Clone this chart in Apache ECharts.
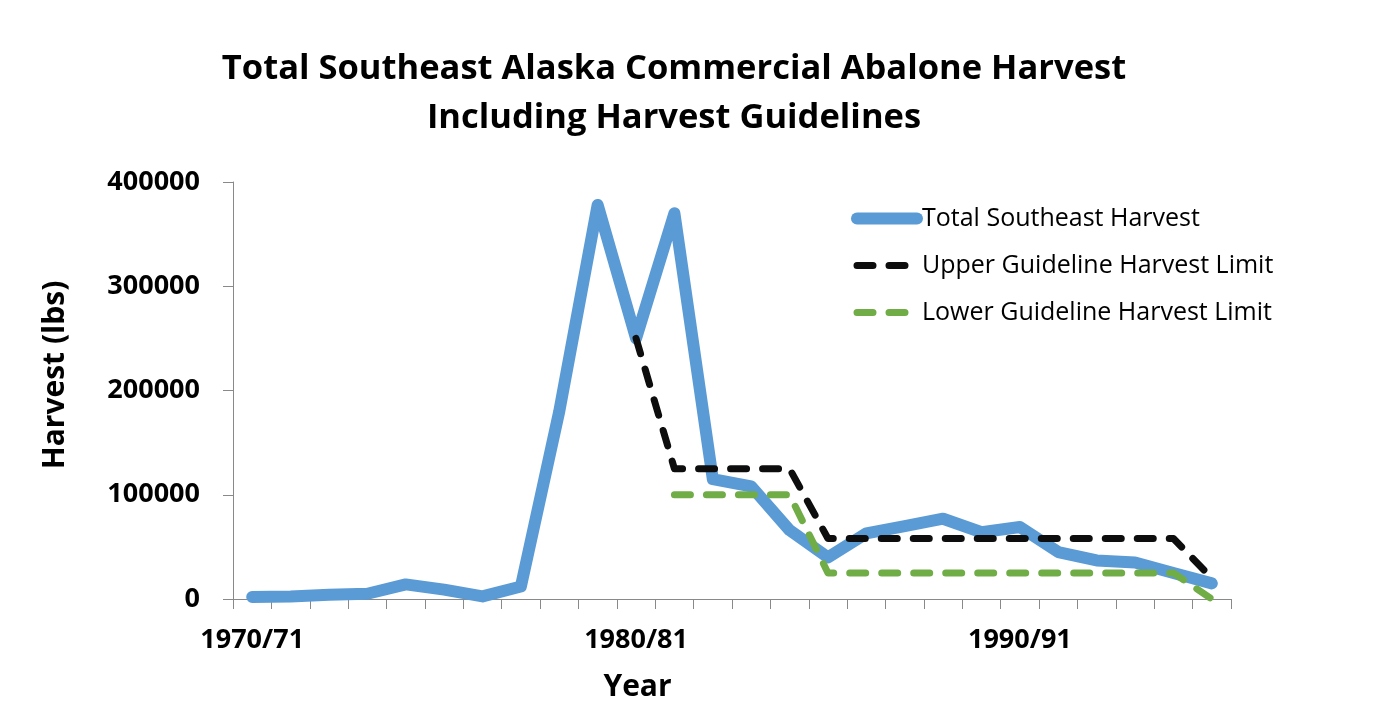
<!DOCTYPE html>
<html>
<head>
<meta charset="utf-8">
<script src="https://cdn.jsdelivr.net/npm/echarts@6/dist/echarts.min.js"></script>
<style>
  html, body { margin: 0; padding: 0; background: #ffffff; }
  #chart { width: 1376px; height: 722px; }
</style>
</head>
<body>
<div id="chart"></div>
<script>
// ---- data ----
const categories = ['1970/71','1971/72','1972/73','1973/74','1974/75','1975/76','1976/77','1977/78','1978/79','1979/80',
                    '1980/81','1981/82','1982/83','1983/84','1984/85','1985/86','1986/87','1987/88','1988/89','1989/90',
                    '1990/91','1991/92','1992/93','1993/94','1994/95','1995/96'];
const totalHarvest = [2000, 2500, 4000, 5000, 14000, 9000, 2500, 12000, 180000, 378000,
                      250000, 370000, 115000, 108000, 66000, 40000, 63000, 70000, 77000, 64000,
                      69000, 45000, 37000, 35000, 25000, 15000];
const upperGuideline = [null, null, null, null, null, null, null, null, null, null,
                        250000, 125000, 125000, 125000, 125000, 58000, 58000, 58000, 58000, 58000,
                        58000, 58000, 58000, 58000, 58000, 20000];
const lowerGuideline = [null, null, null, null, null, null, null, null, null, null,
                        null, 100000, 100000, 100000, 100000, 25000, 25000, 25000, 25000, 25000,
                        25000, 25000, 25000, 25000, 25000, 0];
const yTicks = [0, 100000, 200000, 300000, 400000];
const seriesNames = ['Total Southeast Harvest', 'Upper Guideline Harvest Limit', 'Lower Guideline Harvest Limit'];

const boldFont = '"Open Sans", "Noto Sans", sans-serif';
const axisGray = '#898989';

const chart = echarts.init(document.getElementById('chart'), null, { renderer: 'canvas' });
chart.setOption({
  animation: false,
  backgroundColor: '#ffffff',
  title: {
    text: 'Total Southeast Alaska Commercial Abalone Harvest\nIncluding Harvest Guidelines',
    left: 674,
    top: 45,
    padding: 0,
    textAlign: 'center',
    textVerticalAlign: 'top',
    textStyle: { fontFamily: boldFont, fontWeight: 'bold', fontSize: 34.5, lineHeight: 49, color: '#000000' }
  },
  legend: {
    orient: 'vertical',
    left: 851,
    top: 206,
    padding: 0,
    itemGap: 22,
    itemWidth: 60,
    itemHeight: 14,
    data: seriesNames,
    itemStyle: { opacity: 0 },
    lineStyle: { width: 'inherit' },
    textStyle: { fontFamily: '"Open Sans", sans-serif', fontSize: 25, color: '#000000' }
  },
  grid: { left: 233, right: 145, top: 182, bottom: 123, containLabel: false },
  xAxis: {
    type: 'category',
    data: categories,
    boundaryGap: true,
    name: 'Year',
    nameLocation: 'middle',
    nameGap: 73,
    nameTextStyle: { fontFamily: boldFont, fontWeight: 'bold', fontSize: 30, color: '#000000', padding: [0, 189, 0, 0] },
    axisLine: { lineStyle: { color: axisGray, width: 1 } },
    axisTick: { show: true, interval: 0, length: 10, lineStyle: { color: axisGray } },
    axisLabel: { interval: 9, margin: 28, fontFamily: boldFont, fontWeight: 'bold', fontSize: 27, color: '#000000' },
    splitLine: { show: false }
  },
  yAxis: {
    type: 'value',
    min: yTicks[0],
    max: yTicks[yTicks.length - 1],
    interval: yTicks[1] - yTicks[0],
    name: 'Harvest (lbs)',
    nameLocation: 'middle',
    nameGap: 163,
    nameTextStyle: { fontFamily: boldFont, fontWeight: 'bold', fontSize: 30, color: '#000000', padding: [0, 0, 0, 31] },
    axisLine: { show: true, lineStyle: { color: axisGray, width: 1 } },
    axisTick: { show: true, length: 10, lineStyle: { color: axisGray } },
    axisLabel: { margin: 33, fontFamily: boldFont, fontWeight: 'bold', fontSize: 27, color: '#000000',
                 formatter: function (v) { return String(v); } },
    splitLine: { show: false }
  },
  series: [
    {
      name: seriesNames[0], type: 'line', data: totalHarvest, symbol: 'none', z: 3,
      lineStyle: { color: '#5B9BD5', width: 12, cap: 'round', join: 'round' },
      itemStyle: { color: '#5B9BD5' }
    },
    {
      name: seriesNames[1], type: 'line', data: upperGuideline, symbol: 'none', z: 4,
      lineStyle: { color: '#0D0D0D', width: 7, type: [16, 16], cap: 'round', join: 'round' },
      itemStyle: { color: '#0D0D0D' }
    },
    {
      name: seriesNames[2], type: 'line', data: lowerGuideline, symbol: 'none', z: 5,
      lineStyle: { color: '#70AD47', width: 7, type: [16, 16], cap: 'round', join: 'round' },
      itemStyle: { color: '#70AD47' }
    }
  ]
});
</script>
</body>
</html>
